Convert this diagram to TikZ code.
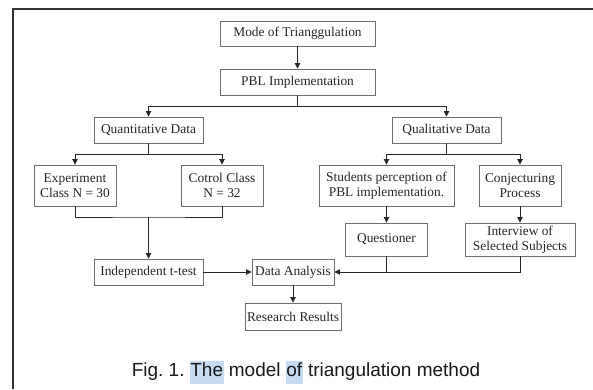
\documentclass[tikz,border=0pt]{standalone}
\usepackage{fontspec}
\setmainfont{Liberation Serif}
\newfontfamily\capfont{Liberation Sans}
\usetikzlibrary{arrows.meta}
\definecolor{boxline}{HTML}{6E6E6E}
\definecolor{txt}{HTML}{262626}
\definecolor{hl}{HTML}{C6DCF2}
\newcommand{\hlword}[1]{{\setlength{\fboxsep}{0.5pt}\colorbox{hl}{\strut #1}}}
\frenchspacing
\begin{document}
\begin{tikzpicture}[x=1pt,y=-1pt,
  box/.style={draw=boxline,line width=0.9pt,inner sep=0pt,align=center,
    text=txt,font=\fontsize{13.4}{15}\selectfont},
  arr/.style={draw=black!85,line width=0.8pt,-{Triangle[length=5.5pt,width=5.5pt]}},
  ln/.style={draw=black!85,line width=0.8pt}]
\useasboundingbox (0,0) rectangle (593,389);
\fill[white] (0,0) rectangle (593,389);
\draw[line width=1.6pt,draw=black!80] (13,389) -- (13,9) -- (593,9);

\node[box,minimum width=155pt,minimum height=25pt] (mode) at (297.5,33.5) {Mode of Trianggulation};
\node[box,minimum width=155pt,minimum height=26pt] (pbl) at (297.5,82) {PBL Implementation};
\node[box,minimum width=109pt,minimum height=26pt] (quant) at (148.5,130) {Quantitative Data};
\node[box,minimum width=109pt,minimum height=26pt] (qual) at (446.5,130) {Qualitative Data};
\node[box,minimum width=82pt,minimum height=41pt] (exp) at (75,185.5) {Experiment\\Class N = 30};
\node[box,minimum width=82pt,minimum height=41pt] (cot) at (222,185.5) {Cotrol Class\\N = 32};
\node[box,minimum width=135pt,minimum height=41pt] (stu) at (386.5,185.5) {Students perception of\\PBL implementation.};
\node[box,minimum width=82pt,minimum height=41pt] (conj) at (520,185.5) {Conjecturing\\Process};
\node[box,minimum width=82pt,minimum height=33pt] (ques) at (386.5,239.5) {Questioner};
\node[box,minimum width=110pt,minimum height=33pt] (intv) at (520,239.5) {Interview of\\Selected Subjects};
\node[box,minimum width=109pt,minimum height=26pt] (ind) at (148.5,272) {Independent t-test};
\node[box,minimum width=82pt,minimum height=26pt] (da) at (293,272) {Data Analysis};
\node[box,minimum width=96pt,minimum height=27pt] (rr) at (293,316.5) {Research Results};

\coordinate (s1) at (297.5,106);
\coordinate (s2) at (148.5,154);
\coordinate (s3) at (446.5,154);
\coordinate (m1) at (148.5,217);

\draw[arr] (mode) -- (pbl);
\draw[ln] (pbl.south) -- (s1);
\draw[arr] (s1) -| (quant.north);
\draw[arr] (s1) -| (qual.north);
\draw[ln] (quant.south) -- (s2);
\draw[arr] (s2) -| (exp.north);
\draw[arr] (s2) -| (cot.north);
\draw[ln] (qual.south) -- (s3);
\draw[arr] (s3) -| (stu.north);
\draw[arr] (s3) -| (conj.north);
\draw[ln] (exp.south) |- (m1) -| (cot.south);
\draw[arr] (m1) -- (ind.north);
\draw[arr] (ind) -- (da);
\draw[arr] (da) -- (rr);
\draw[arr] (stu) -- (ques);
\draw[arr] (conj) -- (intv);
\draw[ln] (ques.south) -- (ques.south |- da.east);
\draw[arr] (intv.south) |- (da.east);

\node[font=\capfont\fontsize{19}{22}\selectfont,text=black!90,inner sep=0pt] (cap) at (306,372)
  {Fig. 1. \hlword{The} model \hlword{of} triangulation method};
\end{tikzpicture}
\end{document}
